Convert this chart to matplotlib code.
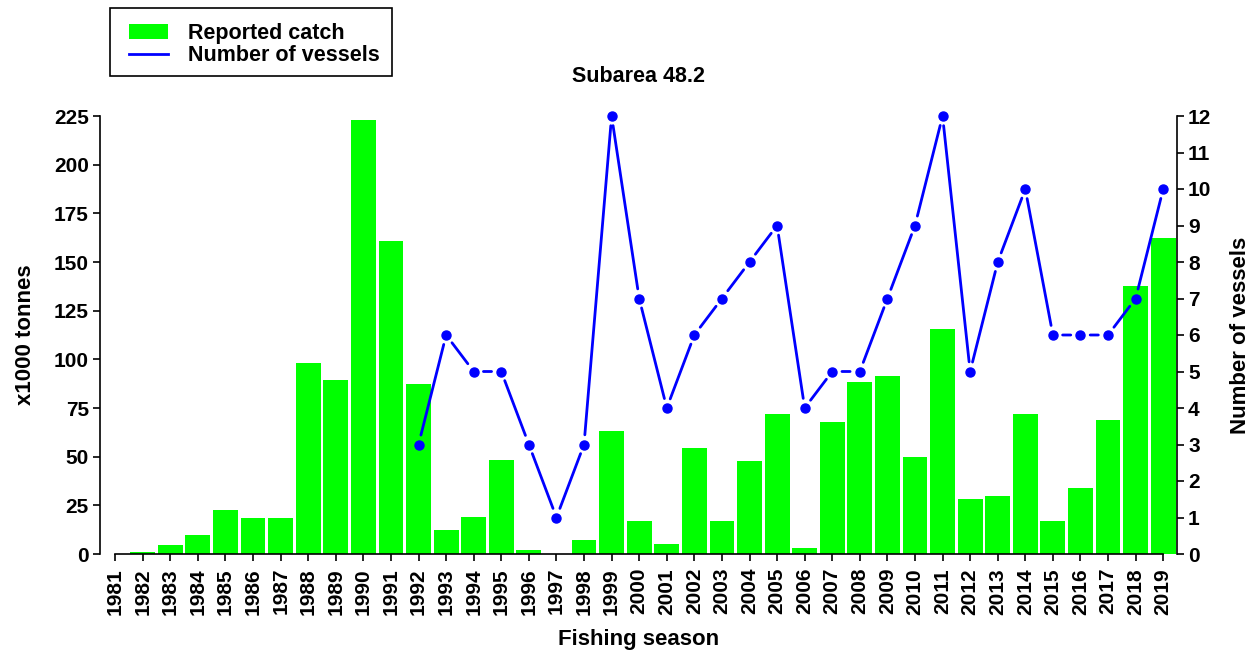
import matplotlib
matplotlib.use("Agg")
import matplotlib.pyplot as plt
from matplotlib.lines import Line2D
from matplotlib.patches import Patch, Rectangle

plt.rcParams['font.family'] = ['Liberation Sans', 'DejaVu Sans']
plt.rcParams['font.weight'] = 'bold'

years = list(range(1981, 2020))
catch = [0, 1, 4.5, 10, 22.5, 18.5, 18.5, 98, 89.5, 223, 161, 87.5, 12.5, 19, 48.5,
         2, 0, 7, 63, 17, 5, 54.5, 17, 48, 72, 3, 68, 88.5, 91.5, 50, 115.5, 28.5,
         30, 72, 17, 34, 69, 137.5, 162.5]
vessel_years = list(range(1992, 2020))
vessels = [3, 6, 5, 5, 3, 1, 3, 12, 7, 4, 6, 7, 8, 9, 4, 5, 5, 7, 9, 12, 5, 8, 10,
           6, 6, 6, 7, 10]
left_ticks = [0, 25, 50, 75, 100, 125, 150, 175, 200, 225]
right_ticks = list(range(0, 13))

W, H = 1253, 654
TFS = 15     # tick labels
LFS = 16     # axis labels
GFS = 15.5   # legend / title
fig = plt.figure(figsize=(W / 100, H / 100), dpi=100)
x0, x1 = 100, 1177
y0, y1 = 554, 116
ax = fig.add_axes([x0 / W, (H - y0) / H, (x1 - x0) / W, (y0 - y1) / H])

ax.bar(years, catch, width=0.9, color='#00FF00', edgecolor='none')
ax.set_xlim(1980.45, 2019.5)
ax.set_ylim(0, 225)
ax.set_yticks(left_ticks)
ax.set_xticks(years)
ax.set_xticklabels([str(y) for y in years], rotation=90, fontsize=TFS, fontweight='bold')
ax.tick_params(axis='y', labelsize=TFS, length=5, width=1.2, direction='out', pad=3)
ax.tick_params(axis='x', length=5, width=1.2, direction='out', pad=5)
for lab in ax.get_yticklabels():
    lab.set_fontweight('bold')
ax.spines['top'].set_visible(False)
ax.spines['right'].set_visible(False)
ax.spines['left'].set_bounds(0, 225)
ax.spines['bottom'].set_bounds(1981, 2019)
for s in ('left', 'bottom'):
    ax.spines[s].set_linewidth(1.2)
ax.set_ylabel('x1000 tonnes', fontsize=LFS, fontweight='bold', labelpad=13)
ax.set_xlabel('Fishing season', fontsize=LFS, fontweight='bold', labelpad=10)

ax2 = ax.twinx()
ax2.set_ylim(0, 12)
ax2.set_yticks(right_ticks)
ax2.tick_params(axis='y', labelsize=TFS, length=5, width=1.2, direction='out', pad=3)
for lab in ax2.get_yticklabels():
    lab.set_fontweight('bold')
for s in ('top', 'left', 'bottom'):
    ax2.spines[s].set_visible(False)
ax2.spines['right'].set_bounds(0, 12)
ax2.spines['right'].set_linewidth(1.2)
ax2.set_ylabel('Number of vessels', fontsize=LFS, fontweight='bold', labelpad=13)

# line segments with gaps around points (R type "b")
for i in range(len(vessel_years) - 1):
    ax2.annotate('', xy=(vessel_years[i + 1], vessels[i + 1]),
                 xytext=(vessel_years[i], vessels[i]),
                 arrowprops=dict(arrowstyle='-', color='#0000FF', lw=2,
                                 shrinkA=7, shrinkB=7), annotation_clip=False)
ax2.plot(vessel_years, vessels, linestyle='none', marker='o', markersize=6.5,
         color='#0000FF', clip_on=False)

fig.text(638 / W, 1 - 76 / H, 'Subarea 48.2', ha='center', va='center',
         fontsize=GFS, fontweight='bold')

handles = [Patch(facecolor='#00FF00', edgecolor='none'),
           Line2D([0], [0], color='#0000FF', lw=2)]
leg = fig.legend(handles, ['Reported catch', 'Number of vessels'],
                 loc='upper left', bbox_to_anchor=(129 / W, 1 - 23 / H),
                 frameon=False, prop={'weight': 'bold', 'size': GFS},
                 handlelength=1.8, handleheight=0.65, labelspacing=0.05,
                 borderpad=0, handletextpad=0.95, borderaxespad=0)
fig.patches.append(Rectangle((110 / W, 1 - 76 / H), 282 / W, 68 / H,
                             transform=fig.transFigure, fill=False,
                             edgecolor='black', linewidth=1.2))

fig.savefig('out.png', dpi=100)
